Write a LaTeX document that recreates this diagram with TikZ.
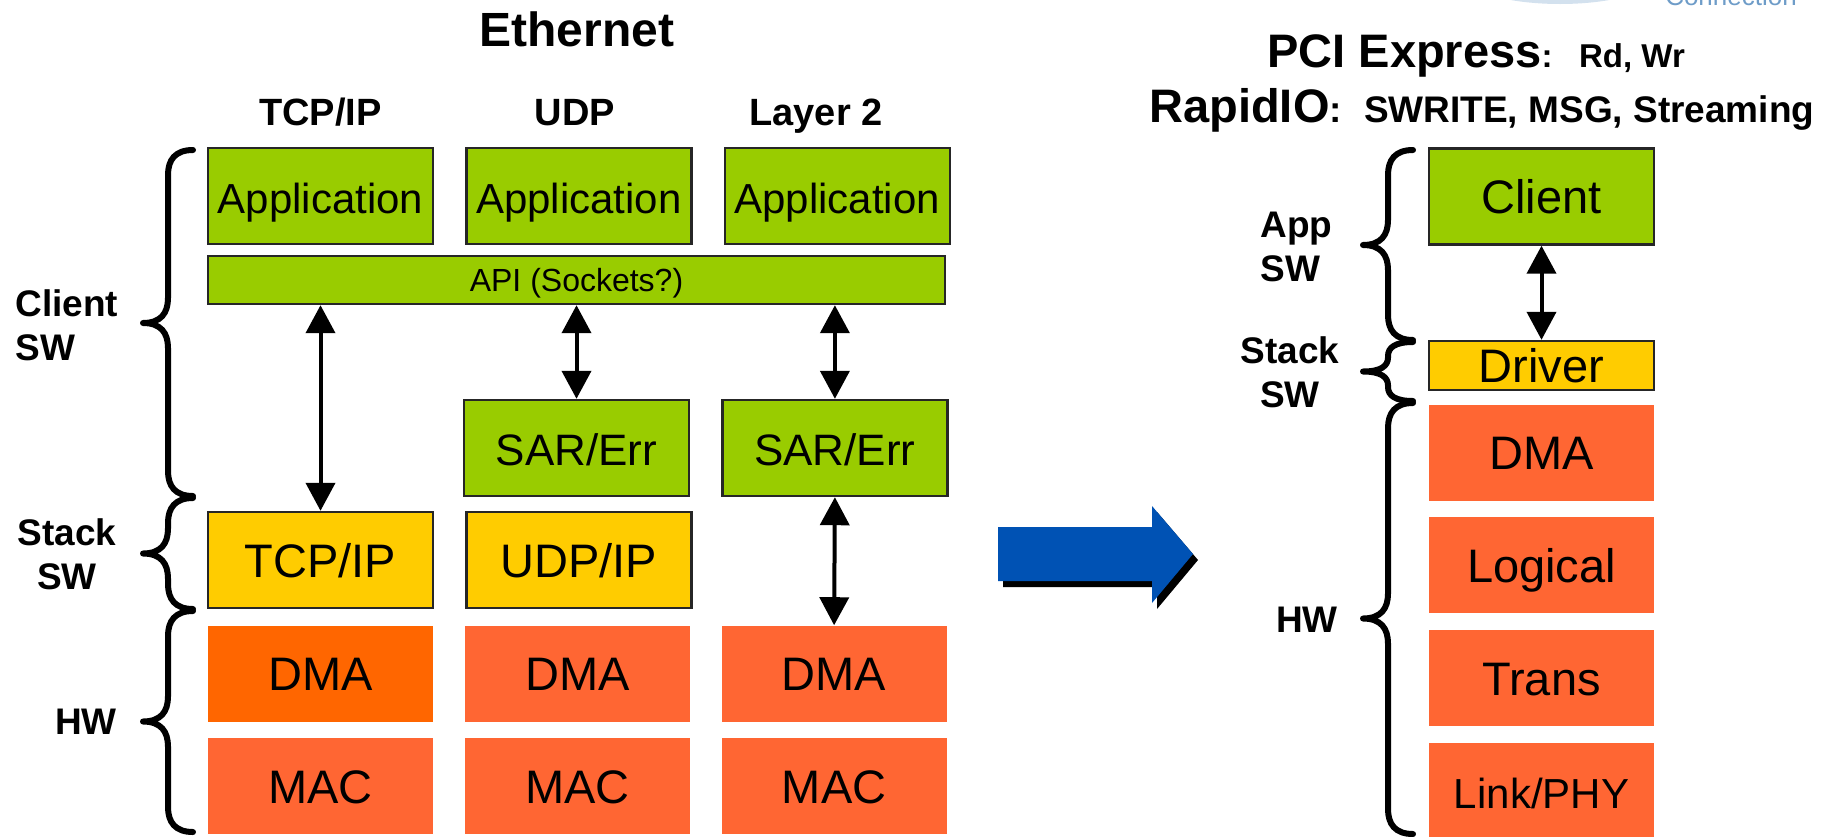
\documentclass[tikz,border=0pt]{standalone}
\usepackage{fontspec}
\setmainfont{Liberation Sans}
\usetikzlibrary{arrows.meta,positioning,calc}
\definecolor{swgreen}{HTML}{99CC00}
\definecolor{stackyellow}{HTML}{FFCC00}
\definecolor{hwred}{HTML}{FF6633}
\definecolor{hwdark}{HTML}{FF6600}
\definecolor{bigblue}{HTML}{0052B4}
\definecolor{edge}{HTML}{262626}
\definecolor{logoblue}{HTML}{6E9CC8}
\tikzset{
  layerbox/.style={
    rectangle, draw=edge, fill=#1, line width=1.2pt,
    minimum width=112.5pt, minimum height=48pt,
    inner sep=0pt, text height=17pt, text depth=0pt,
    font=\fontsize{23.5}{26}\selectfont
  },
  layerbox/.default=swgreen,
  hwbox/.style={
    rectangle, fill=#1,
    minimum width=112.5pt, minimum height=48pt,
    inner sep=0pt, text height=17pt, text depth=0pt,
    font=\fontsize{23.5}{26}\selectfont
  },
  hwbox/.default=hwred,
  duplex/.style={
    {Triangle[width=14.5pt,length=14pt]}-{Triangle[width=14.5pt,length=14pt]},
    line width=2pt
  },
  bracepen/.style={line width=3pt, line cap=round, line join=round},
  titletext/.style={font=\fontsize{24}{28}\selectfont\bfseries, inner sep=0pt},
  headtext/.style={font=\fontsize{19}{22}\selectfont\bfseries, inner sep=0pt},
  sidetext/.style={font=\fontsize{18.5}{22}\selectfont\bfseries, align=#1, inner sep=0pt},
  sidetext/.default=center,
}
% x of the open ends, top, bottom, curl size
\newcommand{\sidebrace}[4]{%
  \pgfmathsetmacro{\bracemid}{(#2+#3)/2}
  \draw[bracepen] (#1,#2) .. controls (#1-18,#2) and (#1-25,#2+0.4*#4) .. (#1-25,#2+#4)
    -- (#1-25,\bracemid-#4) .. controls (#1-25,\bracemid-0.4*#4) and (#1-32,\bracemid) .. (#1-50,\bracemid)
    .. controls (#1-32,\bracemid) and (#1-25,\bracemid+0.4*#4) .. (#1-25,\bracemid+#4)
    -- (#1-25,#3-#4) .. controls (#1-25,#3-0.4*#4) and (#1-18,#3) .. (#1,#3);
}

\begin{document}
\begin{tikzpicture}[x=0.5pt, y=-0.5pt, node distance=8pt and 15.5pt]
\useasboundingbox (0,0) rectangle (1835,836);
\clip (0,0) rectangle (1835,836);

% logo remnant
\fill[logoblue!30] (1560,-30) ellipse (105 and 34);
\node[font=\fontsize{13}{15}\selectfont, text=logoblue, anchor=base, inner sep=0pt] (logo) at (1731,5) {Connection};

% Ethernet
\node[titletext] (eth-title) at (577,29) {Ethernet};
\node[headtext, anchor=base] (h-tcp) at (320.5,125) {TCP/IP};
\node[headtext, anchor=base] (h-udp) at (575,125) {UDP};
\node[headtext, anchor=base] (h-l2) at (816,125) {Layer 2};

\node[layerbox, font=\fontsize{21}{24}\selectfont] (app1) at (320.5,196) {Application};
\node[layerbox, font=\fontsize{21}{24}\selectfont, right=of app1] (app2) {Application};
\node[layerbox, font=\fontsize{21}{24}\selectfont, right=of app2] (app3) {Application};
\node[layerbox, minimum width=368.5pt, minimum height=24pt, text height=11.5pt,
      font=\fontsize{16}{19}\selectfont] (api) at (576.5,280) {API (Sockets?)};

\node[layerbox, font=\fontsize{22}{25}\selectfont] (sar2) at (576.5,448) {SAR/Err};
\node[layerbox, font=\fontsize{22}{25}\selectfont, right=of sar2] (sar3) {SAR/Err};

\node[layerbox=stackyellow] (tcp1) at (320.5,560) {TCP/IP};
\node[layerbox=stackyellow, right=of tcp1] (udp2) {UDP/IP};

\node[hwbox=hwdark, below=of tcp1] (dma1) {DMA};
\node[hwbox, right=of dma1] (dma2) {DMA};
\node[hwbox, right=of dma2] (dma3) {DMA};
\node[hwbox, below=of dma1] (mac1) {MAC};
\node[hwbox, right=of mac1] (mac2) {MAC};
\node[hwbox, right=of mac2] (mac3) {MAC};

\draw[duplex] (api.south -| tcp1.north) -- (tcp1.north);
\draw[duplex] (api.south -| sar2.north) -- (sar2.north);
\draw[duplex] (api.south -| sar3.north) -- (sar3.north);
\draw[duplex] (sar3.south) -- (dma3.north);

\sidebrace{193}{150}{496}{25}
\sidebrace{193}{498}{609}{25}
\sidebrace{193}{611}{832}{25}
\node[sidetext=left, anchor=west] (lbl-client) at (15,325) {Client\\SW};
\node[sidetext] (lbl-stack) at (67,554.5) {Stack\\SW};
\node[sidetext] (lbl-hw) at (86,722) {HW};

% big arrow
\fill[black, shift={(5,6)}] (998,527) -- (1152,527) -- (1152,506) -- (1193,554)
  -- (1152,603) -- (1152,581) -- (998,581) -- cycle;
\fill[bigblue] (998,527) -- (1152,527) -- (1152,506) -- (1193,554)
  -- (1152,603) -- (1152,581) -- (998,581) -- cycle;

% PCIe / RapidIO
\node[anchor=base west, inner sep=0pt] (pcie) at (1267,67)
  {\fontsize{23.5}{26}\selectfont\bfseries PCI Express\fontsize{16.5}{20}\selectfont:\hspace{0.8em}Rd, Wr};
\node[anchor=base west, inner sep=0pt] (rio) at (1149,122)
  {\fontsize{23.5}{26}\selectfont\bfseries RapidIO\fontsize{18.5}{21}\selectfont:\hspace{0.6em}SWRITE, MSG, Streaming};

\node[layerbox] (client) at (1541.5,196.5) {Client};
\node[layerbox=stackyellow, minimum height=24.5pt] (driver) at (1541.5,365.5) {Driver};
\node[hwbox, below=6.5pt of driver] (dma-r) {DMA};
\node[hwbox, below=of dma-r] (logical) {Logical};
\node[hwbox, below=of logical] (trans) {Trans};
\node[hwbox, below=of trans, font=\fontsize{21}{24}\selectfont] (link) {Link/PHY};

\draw[duplex] (client.south) -- (driver.north);

\sidebrace{1413}{150}{340}{25}
\sidebrace{1413}{342}{401}{14}
\sidebrace{1413}{403}{834}{25}
\node[sidetext=left, anchor=west] (lbl-app) at (1260,246.5) {App\\SW};
\node[sidetext] (lbl-rstack) at (1290,372.5) {Stack\\SW};
\node[sidetext] (lbl-rhw) at (1307,620) {HW};
\end{tikzpicture}
\end{document}
